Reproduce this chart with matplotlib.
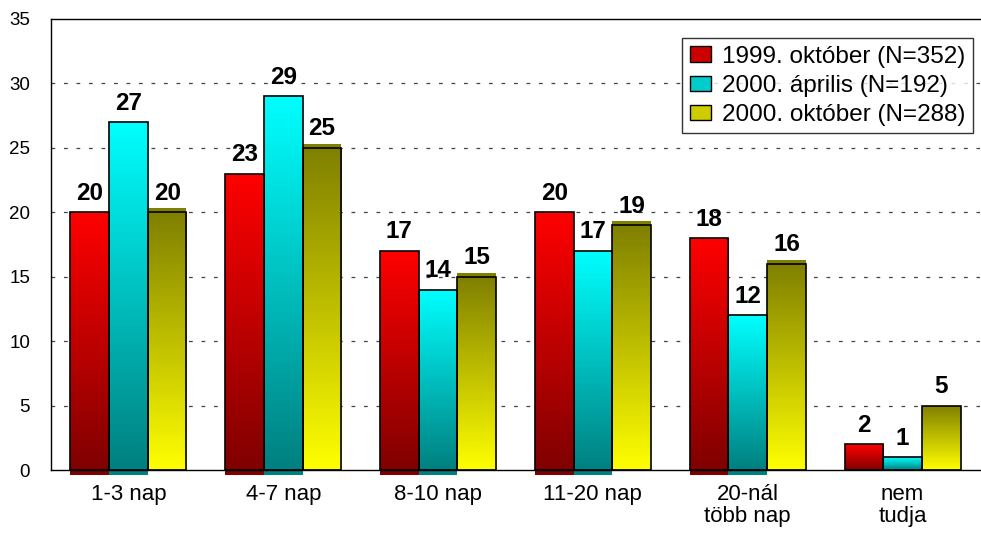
import numpy as np
import matplotlib
matplotlib.use("Agg")
import matplotlib.pyplot as plt
from matplotlib.patches import Patch, Rectangle
from matplotlib.colors import LinearSegmentedColormap

plt.rcParams['font.family'] = ['Liberation Sans', 'DejaVu Sans']

categories = ["1-3 nap", "4-7 nap", "8-10 nap", "11-20 nap", "20-nál\ntöbb nap", "nem\ntudja"]
series_names = ["1999. október (N=352)", "2000. április (N=192)", "2000. október (N=288)"]
oct1999 = [20, 23, 17, 20, 18, 2]
apr2000 = [27, 29, 14, 17, 12, 1]
oct2000 = [20, 25, 15, 19, 16, 5]
yticks = [0, 5, 10, 15, 20, 25, 30, 35]

series = [oct1999, apr2000, oct2000]
# (bottom colour, top colour)
grads = [((0.5, 0, 0), (1, 0, 0)),
         ((0, 0.5, 0.5), (0, 1, 1)),
         ((1, 1, 0), (0.5, 0.5, 0))]
legend_cols = ["#cc0000", "#00cccc", "#cccc00"]

fig = plt.figure(figsize=(9.81, 5.36), dpi=100)
ax = fig.add_axes([0.052, 0.123, 0.947, 0.8417])

n = len(categories)
x = np.arange(n)
w = 0.25
ax.set_xlim(-0.5, n - 0.5)
ax.set_ylim(0, 35)

grad = np.linspace(0, 1, 256).reshape(-1, 1)
for i, (vals, (cb, ct)) in enumerate(zip(series, grads)):
    cmap = LinearSegmentedColormap.from_list(f"g{i}", [cb, ct])
    pos = x + (i - 1) * w
    bars = ax.bar(pos, vals, width=w, facecolor='none', edgecolor='black',
                  linewidth=1.2, zorder=4)
    for j, (b, v) in enumerate(zip(bars, vals)):
        x0 = b.get_x()
        im = ax.imshow(grad, extent=[x0, x0 + w, 0, v], origin='lower',
                       cmap=cmap, aspect='auto', zorder=3, interpolation='bicubic')
        im.set_clip_path(b)
        # 3D artifacts
        if j < n - 1:
            if i < 2:
                ax.add_patch(Rectangle((x0, -0.35), w, 0.35, facecolor=cb,
                                       edgecolor='none', zorder=2, clip_on=False))
            else:
                ax.add_patch(Rectangle((x0, v), w, 0.3, facecolor=ct,
                                       edgecolor='none', zorder=2))
        ax.annotate(str(v), (pos[j], v), xytext=(0, 9), textcoords='offset points',
                    ha='center', va='baseline', fontsize=17.5, fontweight='bold', zorder=6)

ax.set_yticks(yticks)
ax.set_xticks(x)
ax.set_xticklabels(categories, fontsize=16, linespacing=1.05)
ax.tick_params(axis='x', length=0, pad=10)
ax.tick_params(axis='y', length=0, pad=15, labelsize=13.5)
for yv in yticks[1:-1]:
    ax.axhline(yv, color='#444444', linestyle=(0, (3, 7)), linewidth=0.9, zorder=1)
ax.spines['right'].set_visible(False)
for s in ['left', 'top', 'bottom']:
    ax.spines[s].set_linewidth(1.0)
ax.spines['bottom'].set_zorder(5)

handles = [Patch(facecolor=c, edgecolor='black', linewidth=1) for c in legend_cols]
leg = ax.legend(handles, series_names, loc='upper right', bbox_to_anchor=(0.9925, 0.957),
                borderaxespad=0, fontsize=17.5, frameon=True, fancybox=False,
                edgecolor='black', handlelength=0.9, handleheight=0.6,
                handletextpad=0.45, labelspacing=0.3, borderpad=0.3)
leg.get_frame().set_linewidth(1.0)
leg.set_zorder(7)

fig.savefig("out.png", dpi=100)
